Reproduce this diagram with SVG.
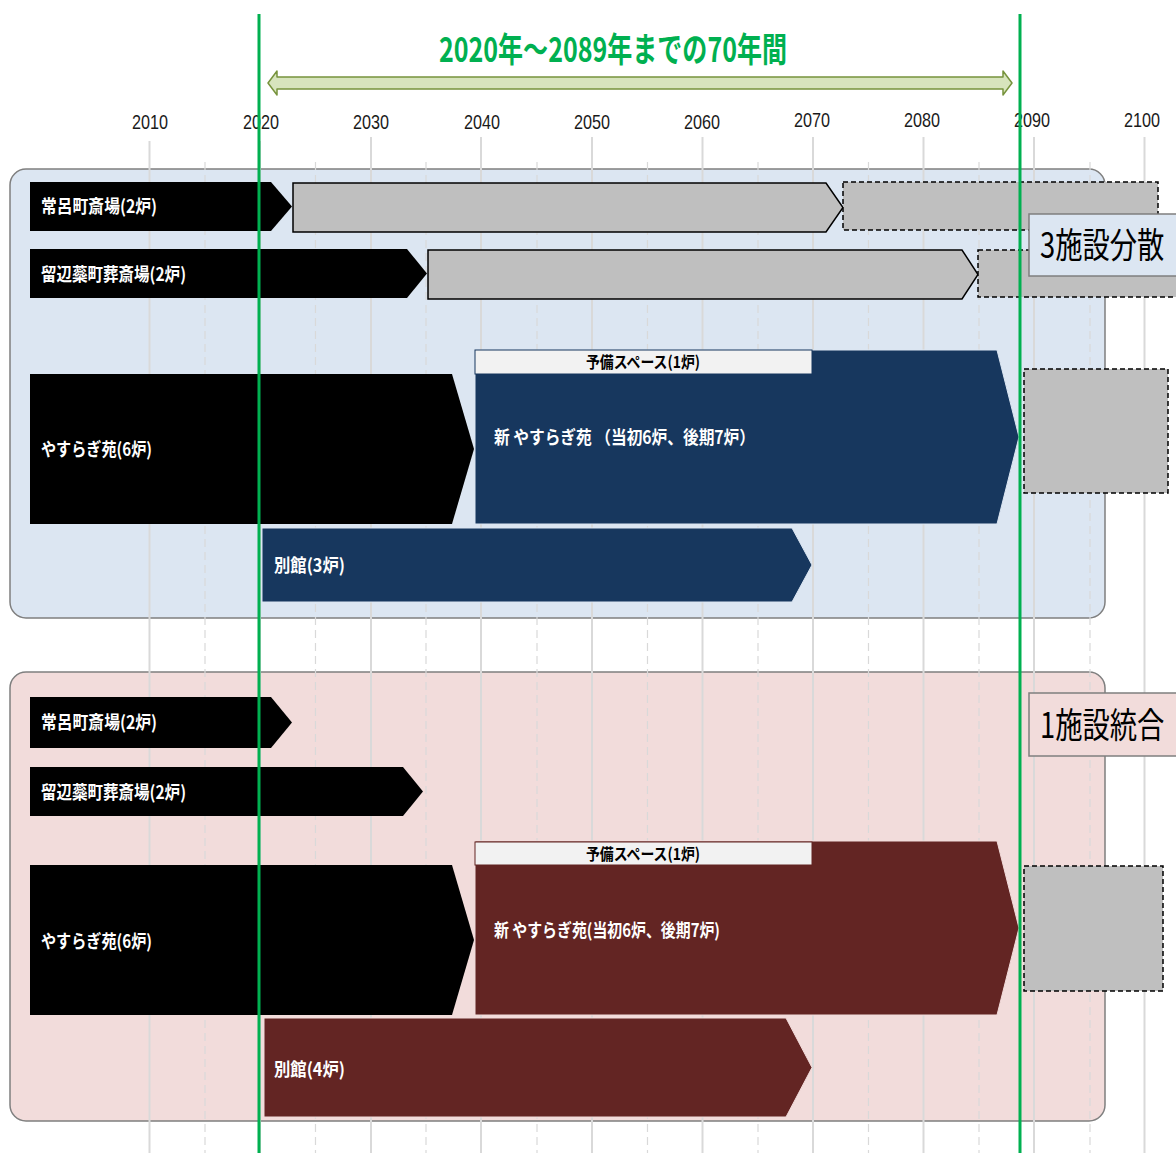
<svg xmlns="http://www.w3.org/2000/svg" width="1176" height="1153" viewBox="0 0 1176 1153">
<defs>
<style>
.yr{font-family:"Liberation Sans",Arial,sans-serif;font-size:21px;fill:#1a1a1a;text-anchor:middle}
.gs{stroke:#D9D9D9;stroke-width:2;fill:none}
.gd{stroke:#D9D9D9;stroke-width:1.2;stroke-dasharray:8 5;fill:none}
.blk{fill:#000}
.navy{fill:#17375E;stroke:#DCE6F2;stroke-width:1}
.maroon{fill:#632523;stroke:#F2DCDB;stroke-width:1}
.gray{fill:#BFBFBF;stroke:#000;stroke-width:1.5}
.dash{fill:#BFBFBF;stroke:#000;stroke-width:1.5;stroke-dasharray:5 3}
.lbl{font-family:"Noto Sans CJK JP","Noto Sans",sans-serif;font-weight:700;font-size:18px;fill:#fff}
.res{font-family:"Noto Sans CJK JP","Noto Sans",sans-serif;font-weight:700;font-size:16px;fill:#000}
.big{font-family:"Noto Sans CJK JP","Noto Sans",sans-serif;font-size:35px;fill:#000}
.green{stroke:#00B050;stroke-width:3}
</style>
</defs>

<!-- panels -->
<g id="panel-dispersed">
<rect x="10" y="169" width="1095" height="449" rx="16" fill="#DCE6F2" stroke="#7F7F7F" stroke-width="1.5"/>
</g>
<g id="panel-integrated">
<rect x="10" y="672" width="1095" height="449" rx="16" fill="#F2DCDB" stroke="#7F7F7F" stroke-width="1.5"/>
</g>

<!-- grid -->
<g id="grid">
<line class="gs" x1="149.5" y1="141" x2="149.5" y2="1153"/>
<line class="gs" x1="260" y1="141" x2="260" y2="1153"/>
<line class="gs" x1="371" y1="137" x2="371" y2="1153"/>
<line class="gs" x1="481" y1="137" x2="481" y2="1153"/>
<line class="gs" x1="592" y1="137" x2="592" y2="1153"/>
<line class="gs" x1="702.5" y1="137" x2="702.5" y2="1153"/>
<line class="gs" x1="813" y1="137" x2="813" y2="1153"/>
<line class="gs" x1="923.5" y1="137" x2="923.5" y2="1153"/>
<line class="gs" x1="1034" y1="137" x2="1034" y2="1153"/>
<line class="gs" x1="1144.5" y1="137" x2="1144.5" y2="1153"/>
<line class="gd" x1="205" y1="162" x2="205" y2="1153"/>
<line class="gd" x1="315.5" y1="162" x2="315.5" y2="1153"/>
<line class="gd" x1="426" y1="162" x2="426" y2="1153"/>
<line class="gd" x1="537" y1="162" x2="537" y2="1153"/>
<line class="gd" x1="647.5" y1="162" x2="647.5" y2="1153"/>
<line class="gd" x1="758" y1="162" x2="758" y2="1153"/>
<line class="gd" x1="868.5" y1="162" x2="868.5" y2="1153"/>
<line class="gd" x1="979" y1="162" x2="979" y2="1153"/>
<line class="gd" x1="1090" y1="162" x2="1090" y2="1153"/>
</g>

<g id="years">
<text class="yr" x="150" y="129" textLength="36" lengthAdjust="spacingAndGlyphs">2010</text>
<text class="yr" x="261" y="129" textLength="36" lengthAdjust="spacingAndGlyphs">2020</text>
<text class="yr" x="371" y="129" textLength="36" lengthAdjust="spacingAndGlyphs">2030</text>
<text class="yr" x="482" y="129" textLength="36" lengthAdjust="spacingAndGlyphs">2040</text>
<text class="yr" x="592" y="129" textLength="36" lengthAdjust="spacingAndGlyphs">2050</text>
<text class="yr" x="702" y="129" textLength="36" lengthAdjust="spacingAndGlyphs">2060</text>
<text class="yr" x="812" y="127" textLength="36" lengthAdjust="spacingAndGlyphs">2070</text>
<text class="yr" x="922" y="127" textLength="36" lengthAdjust="spacingAndGlyphs">2080</text>
<text class="yr" x="1032" y="127" textLength="36" lengthAdjust="spacingAndGlyphs">2090</text>
<text class="yr" x="1142" y="127" textLength="36" lengthAdjust="spacingAndGlyphs">2100</text>
</g>

<!-- title and span arrow -->
<g id="title">
<text x="613" y="62" text-anchor="middle" font-family="'Noto Sans CJK JP','Noto Sans',sans-serif" font-weight="700" font-size="34" fill="#00B050" textLength="348" lengthAdjust="spacingAndGlyphs">2020年～2089年までの70年間</text>
</g>
<g id="span-arrow">
<path d="M268 83 L277 71 V77 H1003 V71 L1012 83 L1003 95 V89 H277 V95 Z" fill="#D7E4BD" stroke="#77933C" stroke-width="1.5" stroke-linejoin="round"/>
</g>

<!-- top scenario -->
<g id="t-tokoro">
<path class="gray" d="M293 183 H826 L843 207.5 L826 232 H293 Z"/>
<rect class="dash" x="843" y="182" width="315" height="48"/>
<path class="blk" d="M30 182 H271 L292 206.5 L271 231 H30 Z"/>
<text class="lbl" x="41" y="213" textLength="116" lengthAdjust="spacingAndGlyphs">常呂町斎場(2炉)</text>
</g>
<g id="t-rubeshibe">
<path class="gray" d="M428 250 H962 L978 274.5 L962 299 H428 Z"/>
<rect class="dash" x="978" y="250" width="210" height="47"/>
<path class="blk" d="M30 249 H407 L427 273.5 L407 298 H30 Z"/>
<text class="lbl" x="41" y="281" textLength="145" lengthAdjust="spacingAndGlyphs">留辺蘂町葬斎場(2炉)</text>
</g>
<g id="t-label">
<rect x="1029" y="214" width="150" height="62" fill="#DCE6F2" stroke="#7F7F7F" stroke-width="1.5"/>
<text class="big" transform="translate(1040 258) scale(0.78 1)" x="0" y="0">3施設分散</text>
</g>
<g id="t-yasuragi">
<path class="blk" d="M30 374 H452 L474 449 L452 524 H30 Z"/>
<text class="lbl" x="41" y="456" textLength="111" lengthAdjust="spacingAndGlyphs">やすらぎ苑(6炉)</text>
</g>
<g id="t-new-yasuragi">
<path class="navy" d="M475 350 H997 L1019 437 L997 524 H475 Z"/>
<rect x="475" y="350" width="337" height="24" fill="#F2F2F2" stroke="#17375E" stroke-width="1"/>
<text class="res" x="643" y="368" text-anchor="middle" textLength="114" lengthAdjust="spacingAndGlyphs">予備スペース(1炉)</text>
<text class="lbl" x="494" y="444" textLength="261" lengthAdjust="spacingAndGlyphs">新 やすらぎ苑 （当初6炉、後期7炉）</text>
<rect class="dash" x="1024" y="369" width="144" height="124"/>
</g>
<g id="t-annex">
<path class="navy" d="M262 528 H792 L812 565 L792 602 H262 Z"/>
<text class="lbl" x="274" y="572" textLength="71" lengthAdjust="spacingAndGlyphs">別館(3炉)</text>
</g>

<!-- bottom scenario -->
<g id="b-tokoro">
<path class="blk" d="M30 697 H271 L292 722.5 L271 748 H30 Z"/>
<text class="lbl" x="41" y="729" textLength="116" lengthAdjust="spacingAndGlyphs">常呂町斎場(2炉)</text>
</g>
<g id="b-rubeshibe">
<path class="blk" d="M30 767 H403 L423 791.5 L403 816 H30 Z"/>
<text class="lbl" x="41" y="799" textLength="145" lengthAdjust="spacingAndGlyphs">留辺蘂町葬斎場(2炉)</text>
</g>
<g id="b-label">
<rect x="1029" y="693" width="150" height="63" fill="#F2DCDB" stroke="#7F7F7F" stroke-width="1.5"/>
<text class="big" transform="translate(1040 738) scale(0.78 1)" x="0" y="0">1施設統合</text>
</g>
<g id="b-yasuragi">
<path class="blk" d="M30 865 H452 L474 940 L452 1015 H30 Z"/>
<text class="lbl" x="41" y="948" textLength="111" lengthAdjust="spacingAndGlyphs">やすらぎ苑(6炉)</text>
</g>
<g id="b-new-yasuragi">
<path class="maroon" d="M475 841 H997 L1019 928 L997 1015 H475 Z"/>
<rect x="475" y="842" width="337" height="23" fill="#F2F2F2" stroke="#632523" stroke-width="1"/>
<text class="res" x="643" y="860" text-anchor="middle" textLength="114" lengthAdjust="spacingAndGlyphs">予備スペース(1炉)</text>
<text class="lbl" x="494" y="937" textLength="226" lengthAdjust="spacingAndGlyphs">新 やすらぎ苑(当初6炉、後期7炉)</text>
<rect class="dash" x="1024" y="866" width="139" height="125"/>
</g>
<g id="b-annex">
<path class="maroon" d="M264 1018 H786 L812 1067.5 L786 1117 H264 Z"/>
<text class="lbl" x="274" y="1076" textLength="71" lengthAdjust="spacingAndGlyphs">別館(4炉)</text>
</g>

<!-- period markers -->
<g id="markers">
<line class="green" x1="259" y1="14" x2="259" y2="1153"/>
<line class="green" x1="1020" y1="14" x2="1020" y2="1153"/>
</g>
</svg>
